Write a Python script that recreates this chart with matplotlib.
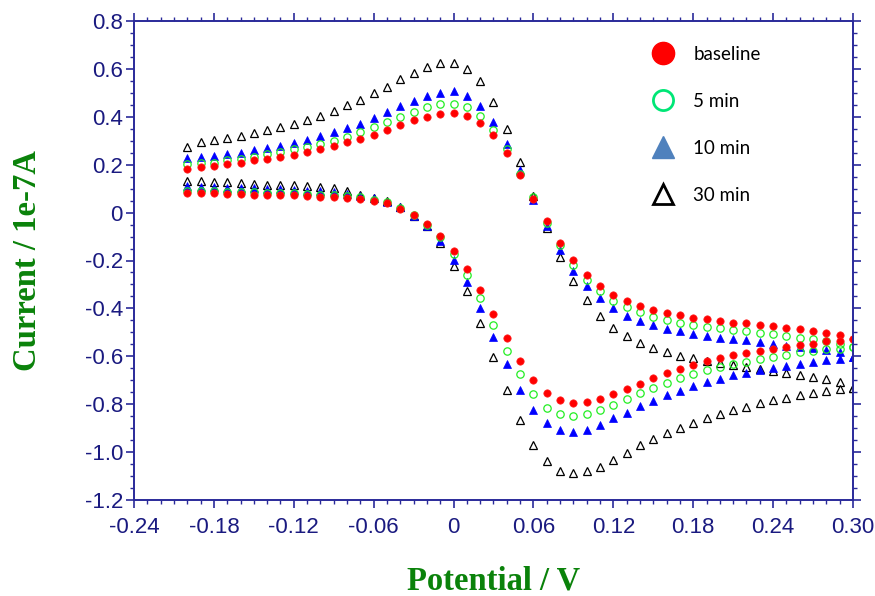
import numpy as np
import matplotlib
matplotlib.use("Agg")
import matplotlib.pyplot as plt
from matplotlib.lines import Line2D
from matplotlib.ticker import MultipleLocator, FixedLocator

# Potential grid (V) shared by both scan branches
potential = np.round(np.arange(-0.20, 0.3001, 0.01), 2)

# Upper (anodic) branch currents, 1e-7 A
baseline_up = [0.183, 0.192, 0.195, 0.204, 0.206, 0.218, 0.225, 0.232, 0.241, 0.252, 0.264, 0.276, 0.294, 0.308, 0.326, 0.346, 0.364,
               0.385, 0.399, 0.413, 0.417, 0.405, 0.374, 0.322, 0.248, 0.155, 0.057,
               -0.036, -0.127, -0.198, -0.259, -0.305, -0.342,
               -0.368, -0.392, -0.407, -0.419, -0.428, -0.438, -0.445, -0.452, -0.459, -0.463, -0.471, -0.474, -0.482, -0.488, -0.494, -0.502, -0.512, -0.529]
min5_up = [0.204, 0.209, 0.209, 0.218, 0.225, 0.232, 0.243, 0.255, 0.264, 0.273, 0.287, 0.301, 0.315, 0.338, 0.357, 0.377, 0.399,
           0.420, 0.441, 0.452, 0.455, 0.441, 0.403, 0.346, 0.266, 0.162, 0.064,
           -0.043, -0.135, -0.218, -0.282, -0.329, -0.368,
           -0.396, -0.417, -0.435, -0.448, -0.459, -0.469, -0.477, -0.482, -0.489, -0.496, -0.501, -0.508, -0.515, -0.522, -0.529, -0.536, -0.547, -0.563]
min10_up = [0.229, 0.231, 0.236, 0.243, 0.250, 0.262, 0.271, 0.280, 0.292, 0.304, 0.319, 0.336, 0.353, 0.371, 0.395, 0.420, 0.445,
            0.466, 0.485, 0.501, 0.506, 0.485, 0.446, 0.378, 0.285, 0.179, 0.054,
            -0.054, -0.155, -0.243, -0.308, -0.358, -0.399,
            -0.431, -0.452, -0.469, -0.484, -0.496, -0.505, -0.515, -0.522, -0.529, -0.533, -0.540, -0.547, -0.555, -0.560, -0.566, -0.575, -0.584, -0.605]
min30_up = [0.273, 0.294, 0.304, 0.311, 0.319, 0.332, 0.344, 0.356, 0.368, 0.385, 0.402, 0.424, 0.448, 0.469, 0.499, 0.524, 0.556,
            0.584, 0.608, 0.625, 0.625, 0.598, 0.548, 0.462, 0.347, 0.213, 0.071,
            -0.064, -0.187, -0.285, -0.365, -0.431, -0.480,
            -0.515, -0.543, -0.566, -0.580, -0.598, -0.609, -0.619, -0.629, -0.637, -0.644, -0.654, -0.661, -0.669, -0.676, -0.686, -0.696, -0.706, -0.731]

# Lower (cathodic) branch currents, 1e-7 A
baseline_dn = [0.081, 0.081, 0.081, 0.078, 0.078, 0.075, 0.074, 0.074, 0.074, 0.071, 0.067, 0.064, 0.061, 0.057, 0.050, 0.039, 0.015,
               -0.008, -0.048, -0.096, -0.159, -0.236, -0.324, -0.424, -0.524, -0.621, -0.700,
               -0.754, -0.784, -0.797, -0.792, -0.777, -0.756,
               -0.735, -0.714, -0.690, -0.671, -0.651, -0.637, -0.619, -0.608, -0.595, -0.586, -0.577, -0.568, -0.560, -0.554, -0.547, -0.538, -0.536, -0.529]
min5_dn = [0.089, 0.089, 0.089, 0.085, 0.085, 0.085, 0.082, 0.082, 0.081, 0.078, 0.075, 0.074, 0.068, 0.064, 0.053, 0.043, 0.020,
           -0.010, -0.052, -0.103, -0.173, -0.259, -0.357, -0.469, -0.577, -0.675, -0.756,
           -0.815, -0.840, -0.851, -0.842, -0.826, -0.803,
           -0.780, -0.755, -0.731, -0.713, -0.692, -0.675, -0.658, -0.644, -0.633, -0.622, -0.612, -0.602, -0.593, -0.584, -0.577, -0.568, -0.568, -0.563]
min10_dn = [0.109, 0.106, 0.106, 0.103, 0.103, 0.102, 0.099, 0.099, 0.096, 0.092, 0.089, 0.085, 0.078, 0.071, 0.060, 0.046, 0.022,
            -0.013, -0.056, -0.117, -0.198, -0.291, -0.400, -0.519, -0.633, -0.741, -0.826,
            -0.880, -0.909, -0.915, -0.906, -0.887, -0.859,
            -0.838, -0.809, -0.787, -0.763, -0.745, -0.724, -0.707, -0.693, -0.679, -0.669, -0.657, -0.647, -0.640, -0.633, -0.623, -0.616, -0.612, -0.605]
min30_dn = [0.131, 0.131, 0.127, 0.127, 0.123, 0.120, 0.117, 0.117, 0.114, 0.110, 0.106, 0.102, 0.089, 0.075, 0.061, 0.047, 0.022,
            -0.013, -0.058, -0.128, -0.222, -0.329, -0.460, -0.603, -0.742, -0.868, -0.972,
            -1.038, -1.077, -1.088, -1.077, -1.061, -1.031,
            -1.003, -0.971, -0.947, -0.922, -0.898, -0.877, -0.856, -0.840, -0.824, -0.810, -0.794, -0.784, -0.773, -0.762, -0.752, -0.745, -0.738, -0.731]

series_labels = ["baseline", "5 min", "10 min", "30 min"]

# Axis ticks
x_ticks = [-0.24, -0.18, -0.12, -0.06, 0.0, 0.06, 0.12, 0.18, 0.24, 0.30]
x_tick_labels = ["-0.24", "-0.18", "-0.12", "-0.06", "0", "0.06", "0.12", "0.18", "0.24", "0.30"]
y_ticks = [0.8, 0.6, 0.4, 0.2, 0.0, -0.2, -0.4, -0.6, -0.8, -1.0, -1.2]
y_tick_labels = ["0.8", "0.6", "0.4", "0.2", "0", "-0.2", "-0.4", "-0.6", "-0.8", "-1.0", "-1.2"]

SPINE = "#2a2a9a"
TICKTXT = "#1a1a80"
LABEL_GREEN = "#0a820a"

fig = plt.figure(figsize=(8.75, 5.96), dpi=100)
ax = fig.add_axes([134 / 875, 1 - 500 / 596, 719 / 875, 479 / 596])

ms = 5.6
# 30 min (open black triangles)
for ys in (min30_up, min30_dn):
    ax.plot(potential, ys, linestyle="none", marker="^", ms=ms, mfc="white", mec="black", mew=0.9)
# 10 min (blue filled triangles)
for ys in (min10_up, min10_dn):
    ax.plot(potential, ys, linestyle="none", marker="^", ms=ms, mfc="#0000ff", mec="#0000ff", mew=0.5)
# 5 min (open green circles)
for ys in (min5_up, min5_dn):
    ax.plot(potential, ys, linestyle="none", marker="o", ms=ms - 0.3, mfc="none", mec="#22ee22", mew=0.9)
# baseline (filled red circles)
for ys in (baseline_up, baseline_dn):
    ax.plot(potential, ys, linestyle="none", marker="o", ms=ms - 0.3, mfc="#ff0000", mec="#ff2020", mew=0.5)

ax.set_xlim(-0.24, 0.30)
ax.set_ylim(-1.2, 0.8)

ax.xaxis.set_major_locator(FixedLocator(x_ticks))
ax.set_xticklabels(x_tick_labels)
ax.xaxis.set_minor_locator(MultipleLocator(0.01))
ax.yaxis.set_major_locator(FixedLocator(y_ticks))
ax.set_yticklabels(y_tick_labels)
ax.yaxis.set_minor_locator(MultipleLocator(0.05))

tick_font = ["Liberation Sans", "DejaVu Sans"]
ax.tick_params(axis="both", which="both", direction="out", color=SPINE,
               top=True, right=True, labelcolor=TICKTXT)
ax.tick_params(axis="both", which="major", length=6, width=1.2)
ax.tick_params(axis="both", which="minor", length=3, width=1.0)
ax.tick_params(axis="x", which="major", pad=6)
ax.tick_params(axis="y", which="major", pad=2)
for lab in ax.get_xticklabels() + ax.get_yticklabels():
    lab.set_family(tick_font)
    lab.set_fontsize(16)

for sp in ax.spines.values():
    sp.set_color(SPINE)
    sp.set_linewidth(1.4)

ax.set_xlabel("Potential / V", family=["Liberation Serif", "DejaVu Serif"], fontweight="bold",
              fontsize=23.5, color=LABEL_GREEN, labelpad=20)
ax.set_ylabel("Current / 1e-7A", family=["Liberation Serif", "DejaVu Serif"], fontweight="bold",
              fontsize=23.5, color=LABEL_GREEN, labelpad=30)

handles = [
    Line2D([], [], linestyle="none", marker="o", ms=16, mfc="#ff0000", mec="#ff0000"),
    Line2D([], [], linestyle="none", marker="o", ms=14.5, mfc="none", mec="#00e676", mew=2.0),
    Line2D([], [], linestyle="none", marker="^", ms=16, mfc="#4f81bd", mec="#4f81bd"),
    Line2D([], [], linestyle="none", marker="^", ms=14.5, mfc="none", mec="black", mew=2.0),
]
leg = ax.legend(handles, series_labels, loc="upper left", bbox_to_anchor=((652 - 134) / 719, (500 - 46) / 479),
                frameon=False, prop={"family": ["Lato", "DejaVu Sans"], "size": 13.5},
                handlelength=1.2, handletextpad=1.0, labelspacing=1.6, borderpad=0, borderaxespad=0)

fig.savefig("out.png", dpi=100)
